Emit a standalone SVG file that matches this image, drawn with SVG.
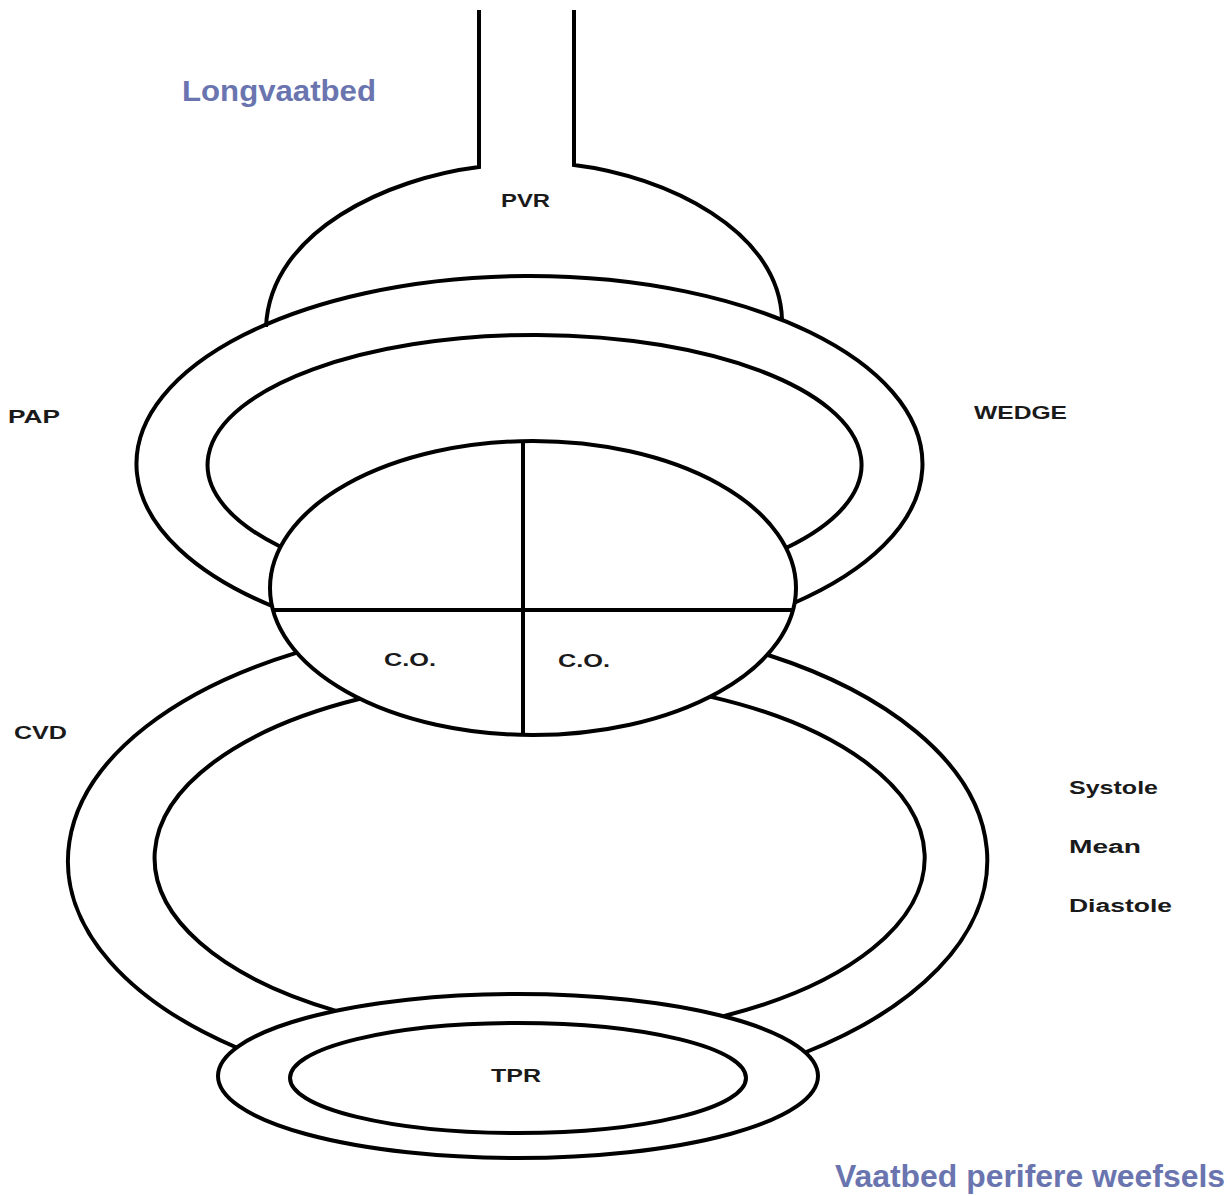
<svg xmlns="http://www.w3.org/2000/svg" width="1230" height="1196" viewBox="0 0 1230 1196">
<style>
.ln{fill:none;stroke:#000;stroke-width:4;stroke-linecap:butt}
.lbl{font-family:"Liberation Sans",Arial,sans-serif;font-weight:bold;font-size:18px;fill:#1a1a1a}
.ttl{font-family:"Liberation Sans",Arial,sans-serif;font-weight:bold;fill:#6a75b0}
</style>
<rect width="1230" height="1196" fill="#fff"/>
<g id="longvaatbed-dome">
<path class="ln" d="M479,10 V167 C390,178 270,230 266,327"/>
<path class="ln" d="M574,10 V165 C665,176 780,230 782,320"/>
</g>
<g id="upper-ring">
<path class="ln" d="M272,606 A393,188 0 1 1 794,603"/>
<path class="ln" d="M280,546.5 A327,130 0 1 1 786,548"/>
</g>
<g id="heart">
<ellipse class="ln" cx="533" cy="588" rx="263" ry="147"/>
<path class="ln" d="M523,441 V736 M272,610 H794"/>
</g>
<g id="lower-ring">
<path class="ln" d="M297,652.6 A460,241 0 0 0 236.5,1047.5"/>
<path class="ln" d="M768,655 A460,241 0 0 1 805,1052.5"/>
<path class="ln" d="M360,698.8 A385,180 0 0 0 336,1010.8"/>
<path class="ln" d="M710,696.6 A385,180 0 0 1 723.5,1016.2"/>
</g>
<g id="tpr-bed">
<ellipse class="ln" cx="518" cy="1076" rx="300" ry="82"/>
<ellipse class="ln" cx="518" cy="1078" rx="228" ry="55"/>
</g>
<g id="labels">
<text class="ttl" x="182" y="101" font-size="29" textLength="194" lengthAdjust="spacingAndGlyphs">Longvaatbed</text>
<text class="ttl" x="835" y="1187" font-size="32" textLength="390" lengthAdjust="spacingAndGlyphs">Vaatbed perifere weefsels</text>
<text class="lbl" x="501" y="207" textLength="49" lengthAdjust="spacingAndGlyphs">PVR</text>
<text class="lbl" x="8" y="423" textLength="52" lengthAdjust="spacingAndGlyphs">PAP</text>
<text class="lbl" x="974" y="419" textLength="93" lengthAdjust="spacingAndGlyphs">WEDGE</text>
<text class="lbl" x="384" y="666" textLength="52" lengthAdjust="spacingAndGlyphs">C.O.</text>
<text class="lbl" x="558" y="667" textLength="52" lengthAdjust="spacingAndGlyphs">C.O.</text>
<text class="lbl" x="14" y="739" textLength="53" lengthAdjust="spacingAndGlyphs">CVD</text>
<text class="lbl" x="1069" y="794" textLength="89" lengthAdjust="spacingAndGlyphs">Systole</text>
<text class="lbl" x="1069" y="853" textLength="72" lengthAdjust="spacingAndGlyphs">Mean</text>
<text class="lbl" x="1069" y="912" textLength="103" lengthAdjust="spacingAndGlyphs">Diastole</text>
<text class="lbl" x="491" y="1082" textLength="50" lengthAdjust="spacingAndGlyphs">TPR</text>
</g>
</svg>
